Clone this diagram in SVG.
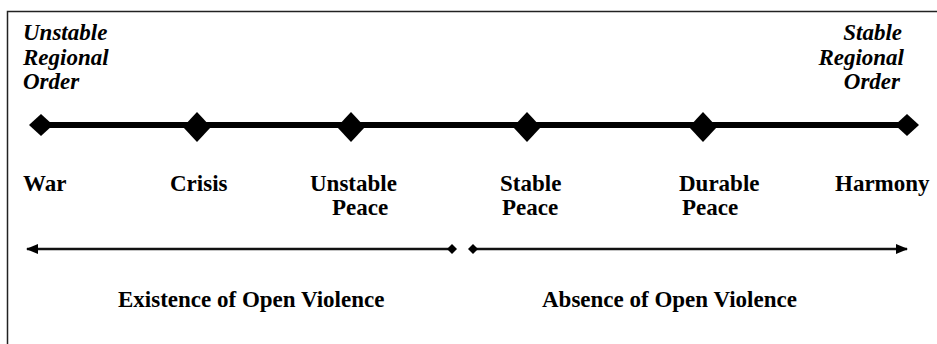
<svg xmlns="http://www.w3.org/2000/svg" width="937" height="344" viewBox="0 0 937 344">
<style>
.t{font-family:"Liberation Serif","Times New Roman",serif;font-weight:bold;font-size:23px;fill:#000}
.i{font-style:italic}
.d{fill:#000}
</style>
<defs>
<marker id="ah" markerWidth="12" markerHeight="10" refX="11" refY="5" orient="auto-start-reverse" markerUnits="userSpaceOnUse">
<path d="M0,0 L12,5 L0,10 Z" fill="#000"/>
</marker>
</defs>
<rect x="0" y="0" width="937" height="344" fill="#fff"/>
<rect x="7.5" y="11.5" width="940" height="340" fill="none" stroke="#222" stroke-width="1.5"/>
<g id="connectors">
<line x1="41" y1="125" x2="907" y2="125" stroke="#000" stroke-width="6"/>
<line x1="452" y1="249" x2="27" y2="249" stroke="#111" stroke-width="2.5" marker-end="url(#ah)"/>
<line x1="473" y1="249" x2="907" y2="249" stroke="#111" stroke-width="2.5" marker-end="url(#ah)"/>
<path class="d" d="M452,244 L457,249 L452,254 L447,249 Z"/>
<path class="d" d="M473,244 L478,249 L473,254 L468,249 Z"/>
</g>
<g id="unstable-order">
<text class="t i" x="23" y="40">Unstable</text>
<text class="t i" x="23" y="65">Regional</text>
<text class="t i" x="23" y="89">Order</text>
</g>
<g id="stable-order">
<text class="t i" x="902" y="40" text-anchor="end">Stable</text>
<text class="t i" x="904" y="65" text-anchor="end">Regional</text>
<text class="t i" x="900" y="89" text-anchor="end">Order</text>
</g>
<g id="war">
<path class="d" d="M29,125 L41,114 L53,125 L41,136 Z"/>
<text class="t" x="23" y="191">War</text>
</g>
<g id="crisis">
<path class="d" d="M183,127 L197,112 L211,127 L197,142 Z"/>
<text class="t" x="170" y="191">Crisis</text>
</g>
<g id="unstable-peace">
<path class="d" d="M337,127 L351,112 L365,127 L351,142 Z"/>
<text class="t" x="310" y="191">Unstable</text>
<text class="t" x="332" y="215">Peace</text>
</g>
<g id="stable-peace">
<path class="d" d="M513,127 L527,112 L541,127 L527,142 Z"/>
<text class="t" x="500" y="191">Stable</text>
<text class="t" x="502" y="215">Peace</text>
</g>
<g id="durable-peace">
<path class="d" d="M689,127 L703,112 L717,127 L703,142 Z"/>
<text class="t" x="679" y="191">Durable</text>
<text class="t" x="682" y="215">Peace</text>
</g>
<g id="harmony">
<path class="d" d="M895,125 L907,114 L919,125 L907,136 Z"/>
<text class="t" x="835" y="191">Harmony</text>
</g>
<g id="existence">
<text class="t" x="118" y="307">Existence of Open Violence</text>
</g>
<g id="absence">
<text class="t" x="542" y="307">Absence of Open Violence</text>
</g>
</svg>
